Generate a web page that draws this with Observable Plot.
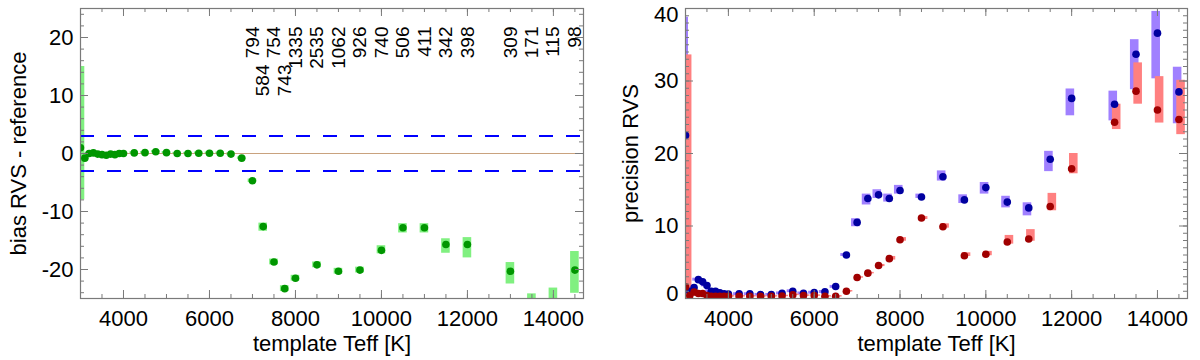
<!DOCTYPE html>
<html><head><meta charset="utf-8">
<script src="https://cdn.jsdelivr.net/npm/d3@7"></script>
<script src="https://cdn.jsdelivr.net/npm/@observablehq/plot@0.6"></script>
<style>
body{margin:0;background:#fff;}
#wrap{display:flex;width:1200px;height:360px;overflow:hidden;}
</style></head><body><div id="wrap"></div>
<script>
// ---- data ----
const teff = [3000,3100,3200,3300,3400,3500,3600,3700,3800,3900,4000,
  4250,4500,4750,5000,5250,5500,5750,6000,6250,6500,6750,7000,7250,7500,7750,8000,
  8500,9000,9500,10000,10500,11000,11500,12000,13000,13500,14000,14500];

const bias   = [1.0,-0.8,0.0,0.1,-0.1,-0.2,-0.3,-0.1,-0.2,0.0,0.0,
  0.1,0.15,0.3,0.15,0.0,0.0,0.05,0.05,0.05,-0.1,-0.8,-4.7,-12.6,-18.7,-23.3,-21.5,
  -19.2,-20.3,-20.1,-16.7,-12.8,-12.8,-15.7,-15.7,-20.3,-27.0,-26.5,-20.1];
const biasLo = [-8,-1.0,-0.2,-0.1,-0.3,-0.4,-0.5,-0.3,-0.4,-0.2,-0.2,
  -0.1,-0.05,0.1,-0.05,-0.2,-0.2,-0.15,-0.15,-0.15,-0.3,-1.0,-5.0,-13.4,-19.2,-23.8,-22.0,
  -19.7,-20.8,-20.6,-17.3,-13.7,-13.7,-17.2,-18.0,-22.5,-30,-30,-24.1];
const biasHi = [15,-0.6,0.2,0.3,0.1,0.0,-0.1,0.1,0.0,0.2,0.2,
  0.3,0.35,0.5,0.35,0.2,0.2,0.25,0.25,0.25,0.1,-0.6,-4.4,-12.0,-18.2,-22.8,-21.0,
  -18.7,-19.8,-19.6,-15.9,-12.1,-12.1,-14.7,-14.5,-18.8,-24.2,-23.2,-16.9];

const countTeff = [7000,7250,7500,7750,8000,8500,9000,9500,10000,10500,11000,11500,12000,13000,13500,14000,14500];
const counts    = [794,584,754,743,1335,2535,1062,926,740,506,411,342,398,309,171,115,98];
const staggered = [7250,7750];

const precA   = [22.5,1.0,1.5,2.6,2.3,1.8,1.0,1.0,0.8,0.65,0.6,
  0.65,0.65,0.55,0.55,0.73,1.0,0.73,0.83,0.92,1.66,6.0,10.5,13.8,14.3,13.8,14.9,
  14.0,16.8,13.6,15.3,13.3,12.5,19.2,27.6,26.8,33.7,36.6,28.5];
const precALo = [5,0.8,1.3,2.4,2.1,1.6,0.8,0.8,0.6,0.5,0.4,
  0.4,0.4,0.3,0.3,0.5,0.8,0.5,0.6,0.7,1.4,5.8,9.9,12.9,13.8,13.3,14.4,
  13.8,16.2,13.1,14.4,12.5,11.4,17.5,25.2,24.5,28.8,30.3,24.1];
const precAHi = [38.8,1.2,1.7,2.8,2.5,2.0,1.2,1.2,1.0,0.8,0.8,
  0.8,0.8,0.7,0.7,0.9,1.2,0.9,1.0,1.1,1.8,6.2,11.0,14.4,15.0,14.4,15.6,
  14.4,17.6,14.3,16.0,14.1,13.2,20.3,28.9,28.6,35.7,39.6,31.9];

const precB   = [1.6,0.4,0.9,0.7,0.7,0.4,0.3,0.3,0.3,0.3,0.3,
  0.3,0.3,0.3,0.3,0.35,0.5,0.4,0.4,0.3,0.3,1.0,2.9,3.5,4.55,5.5,8.1,
  11.1,9.9,5.9,6.1,7.8,8.2,12.7,17.9,24.3,28.6,26.0,24.7];
const precBLo = [0,0.3,0.8,0.6,0.6,0.3,0.2,0.2,0.2,0.2,0.2,
  0.2,0.2,0.2,0.2,0.25,0.4,0.3,0.3,0.2,0.2,0.9,2.8,3.4,4.4,5.3,7.9,
  10.9,9.7,5.8,5.9,7.5,7.9,12.1,17.2,23.3,26.8,24.2,22.6];
const precBHi = [33.6,0.5,1.0,0.8,0.8,0.5,0.4,0.4,0.4,0.4,0.4,
  0.4,0.4,0.4,0.4,0.45,0.6,0.5,0.5,0.4,0.4,1.1,3.0,3.6,4.7,5.8,8.4,
  11.3,10.3,6.3,6.5,8.7,9.5,14.5,20.0,26.8,32.5,30.6,30.1];

const xMajor = [4000,6000,8000,10000,12000,14000];
const xMinor = d3.range(3500, 14700, 500);
const yMajorL = [-20,-10,0,10,20];
const yMinorL = d3.range(-24, 25, 2);
const yMajorR = [0,10,20,30,40];
const yMinorR = d3.range(1, 40, 1);

// ---- tables ----
const rows = teff.map((t,i)=>({t, bias:bias[i], bLo:biasLo[i], bHi:biasHi[i],
  a:precA[i], aLo:precALo[i], aHi:precAHi[i], b:precB[i], bbLo:precBLo[i], bbHi:precBHi[i]}));
const countRows = countTeff.map((t,i)=>({t, n:counts[i]}));

const FONT = "'Liberation Sans', Arial, Helvetica, sans-serif";
const FS = 22;
const W = 600, H = 360, MT = 8, MB = 62;
const innerH = H - MT - MB;
const frameColor = "#7a7a7a";

function tickMarks(innerW, xmaj, xmin, ymaj, ymin) {
  const c = {stroke: frameColor, strokeWidth: 1};
  return [
    Plot.tickX(xmin, {x: d=>d, ...c, insetTop: innerH - 4}),
    Plot.tickX(xmin, {x: d=>d, ...c, insetBottom: innerH - 4}),
    Plot.tickX(xmaj, {x: d=>d, ...c, insetTop: innerH - 8}),
    Plot.tickX(xmaj, {x: d=>d, ...c, insetBottom: innerH - 8}),
    Plot.tickY(ymin, {y: d=>d, ...c, insetRight: innerW - 4}),
    Plot.tickY(ymin, {y: d=>d, ...c, insetLeft: innerW - 4}),
    Plot.tickY(ymaj, {y: d=>d, ...c, insetRight: innerW - 8}),
    Plot.tickY(ymaj, {y: d=>d, ...c, insetLeft: innerW - 8}),
    Plot.frame({stroke: frameColor, strokeWidth: 1.2})
  ];
}

function axes(xlabel, ylabel, ydx, ymaj, yFirstDy, yLastDy) {
  const inner = ymaj.slice(1, -1);
  const yopt = {tickSize: 0, tickPadding: 7, fontSize: FS, tickFormat: d=>String(d), label: null};
  return [
    Plot.axisX(xMajor, {tickSize: 0, tickPadding: 12, fontSize: FS, tickFormat: d=>String(d), label: null}),
    Plot.axisY(inner, yopt),
    Plot.axisY([ymaj[0]], {...yopt, dy: yFirstDy}),
    Plot.axisY([ymaj[ymaj.length - 1]], {...yopt, dy: yLastDy}),
    Plot.text([xlabel], {text: d=>d, frameAnchor: "bottom", dy: 45, fontSize: FS, lineAnchor: "middle", fill: "black"}),
    Plot.text([ylabel], {text: d=>d, frameAnchor: "left", dx: ydx, rotate: -90, fontSize: FS, lineAnchor: "middle", textAnchor: "middle", fill: "black"})
  ];
}

const ML1 = 80, MR1 = 17;
const left = Plot.plot({
  width: W, height: H, marginLeft: ML1, marginRight: MR1, marginTop: MT, marginBottom: MB,
  style: {fontFamily: FONT, fontSize: FS + "px", color: "black", background: "white", overflow: "visible"},
  x: {domain: [3000, 14700]},
  y: {domain: [-25, 25]},
  marks: [
    Plot.rect(rows, {x1: d=>d.t-100, x2: d=>d.t+100, y1: "bLo", y2: "bHi", fill: "#80f080", clip: true}),
    Plot.ruleY([0], {stroke: "#c9a27e", strokeWidth: 1}),
    Plot.ruleY([-3, 3], {stroke: "#0000ff", strokeWidth: 2, strokeDasharray: "14,13"}),
    Plot.dot(rows, {x: "t", y: "bias", r: 3.8, fill: "#009600", stroke: "none", clip: true}),
    Plot.text(countRows.filter(d=>!staggered.includes(d.t)), {x: "t", text: d=>String(d.n), frameAnchor: "top", dy: 18, rotate: -90, textAnchor: "end", lineAnchor: "middle", fontSize: 19, fill: "black"}),
    Plot.text(countRows.filter(d=>staggered.includes(d.t)), {x: "t", text: d=>String(d.n), frameAnchor: "top", dy: 56, rotate: -90, textAnchor: "end", lineAnchor: "middle", fontSize: 19, fill: "black"}),
    ...tickMarks(W - ML1 - MR1, xMajor, xMinor, yMajorL, yMinorL),
    ...axes("template Teff [K]", "bias RVS - reference", -62, yMajorL, 0, 0)
  ]
});

const ML2 = 85, MR2 = 13;
const right = Plot.plot({
  width: W, height: H, marginLeft: ML2, marginRight: MR2, marginTop: MT, marginBottom: MB,
  style: {fontFamily: FONT, fontSize: FS + "px", color: "black", background: "white", overflow: "visible"},
  x: {domain: [3000, 14700]},
  y: {domain: [0, 40]},
  marks: [
    Plot.rect(rows, {x1: d=>d.t-130, x2: d=>d.t+70, y1: "aLo", y2: "aHi", fill: "#a080ff", clip: true}),
    Plot.rect(rows, {x1: d=>d.t-50, x2: d=>d.t+150, y1: "bbLo", y2: "bbHi", fill: "#ff8080", clip: true}),
    Plot.dot(rows, {x: "t", y: "a", r: 3.8, fill: "#0000a0", stroke: "none", clip: true}),
    Plot.dot(rows, {x: "t", y: "b", r: 3.8, fill: "#a00000", stroke: "none", clip: true}),
    ...tickMarks(W - ML2 - MR2, xMajor, xMinor, yMajorR, yMinorR),
    ...axes("template Teff [K]", "precision RVS", -55, yMajorR, -5, 6)
  ]
});

document.getElementById("wrap").append(left, right);
</script>
</body></html>
